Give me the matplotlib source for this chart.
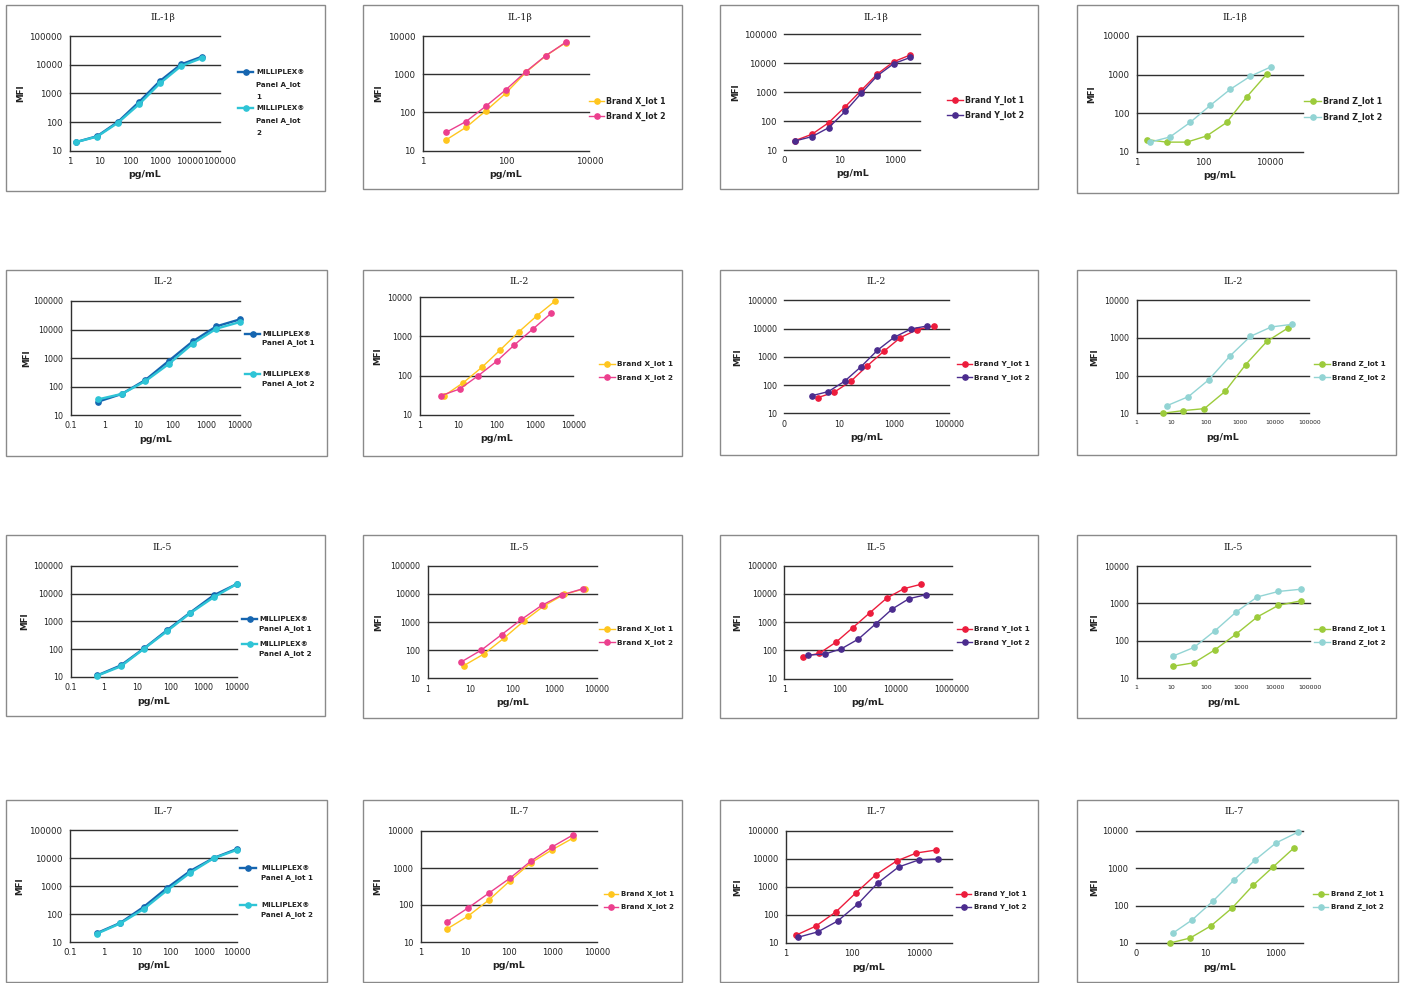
import matplotlib
matplotlib.use("Agg")
import matplotlib.pyplot as plt
from matplotlib.lines import Line2D
from matplotlib.patches import Rectangle

W, H = 1403, 983

# ---------------- data ----------------
# IL-1beta
il1b_mp_x = [1.6, 8, 40, 200, 1000, 5000, 25000]
il1b_mp_y1 = [20, 32, 102, 500, 2700, 10200, 19000]
il1b_mp_y2 = [20, 31, 95, 415, 2240, 8900, 17000]
il1b_bx_x = [3.6, 11, 33, 98, 300, 890, 2700]
il1b_bx_y1 = [19, 41, 111, 316, 1120, 3000, 6700]
il1b_bx_y2 = [30, 58, 147, 388, 1170, 3040, 6800]
il1b_by_x = [0.24, 1.0, 4.0, 16, 60, 230, 900, 3600]
il1b_by_y1 = [21, 35, 88, 316, 1150, 4260, 11300, 19400]
il1b_by_y2 = [20.5, 29, 59, 217, 910, 3700, 9700, 15900]
il1b_bz_x1 = [2.0, 7.9, 32, 126, 500, 2040, 8300]
il1b_bz_y1 = [21, 18, 18, 26, 58, 270, 1070]
il1b_bz_x2 = [2.5, 10, 40, 162, 646, 2570, 10500]
il1b_bz_y2 = [18, 24.5, 58, 161, 420, 910, 1580]
# IL-2
il2_mp_x = [0.64, 3.2, 16, 80, 400, 2000, 10000]
il2_mp_y1 = [29.5, 55, 170, 810, 3830, 12900, 22700]
il2_mp_y2 = [35.5, 55, 155, 630, 3170, 10700, 18300]
il2_bx_x1 = [4.3, 13.5, 41, 122, 373, 1130, 3390]
il2_bx_y1 = [30.6, 66, 162, 445, 1290, 3400, 8100]
il2_bx_x2 = [3.5, 10.8, 33, 100, 289, 870, 2630]
il2_bx_y2 = [30.6, 45.3, 99, 232, 605, 1530, 3880]
il2_by_x1 = [1.67, 6.4, 26.5, 104, 420, 1700, 6900, 27700]
il2_by_y1 = [36, 55, 136, 474, 1560, 4780, 9150, 12300]
il2_by_x2 = [1.0, 4.0, 15.6, 61, 246, 1000, 4130, 15900]
il2_by_y2 = [42, 58.5, 136, 437, 1700, 4900, 9700, 12300]
il2_bz_x1 = [5.6, 22.5, 91, 362, 1440, 5900, 24000]
il2_bz_y1 = [10, 11.8, 13.3, 38, 197, 812, 1830]
il2_bz_x2 = [7.6, 31.5, 121, 505, 1960, 7900, 31500]
il2_bz_y2 = [16, 27.7, 77, 333, 1100, 1960, 2300]
# IL-5
il5_mp_x = [0.63, 3.16, 16, 81, 390, 2000, 10000]
il5_mp_y1 = [11.5, 26, 107, 490, 2040, 8550, 21900]
il5_mp_y2 = [11.2, 24, 104, 450, 1940, 7300, 21900]
il5_bx_x1 = [7.1, 21.3, 63, 190, 560, 1690, 5200]
il5_bx_y1 = [28, 73, 263, 1090, 3700, 9600, 15200]
il5_bx_x2 = [6.2, 18.7, 56, 166, 500, 1500, 4670]
il5_bx_y2 = [38, 101, 355, 1240, 3900, 9100, 15200]
il5_by_x1 = [4.6, 18, 72, 285, 1170, 4760, 19400, 77000]
il5_by_y1 = [60, 79, 198, 640, 2170, 7200, 15400, 21800]
il5_by_x2 = [7.3, 28, 112, 456, 1860, 7400, 29400, 120000]
il5_by_y2 = [69, 74, 115, 254, 865, 2940, 6800, 9400]
il5_bz_x = [11, 45, 182, 740, 3000, 12300, 53500]
il5_bz_y1 = [21, 26, 58, 152, 435, 890, 1170]
il5_bz_y2 = [39, 67, 187, 590, 1490, 2090, 2390]
# IL-7
il7_mp_x = [0.65, 3.2, 16, 80, 400, 2000, 10000]
il7_mp_y1 = [21, 48, 178, 850, 3450, 10000, 21000]
il7_mp_y2 = [20, 46, 150, 700, 3000, 9800, 19500]
il7_bx_x = [3.9, 11.7, 35, 105, 315, 950, 2830]
il7_bx_y1 = [22.5, 50, 137, 450, 1380, 3100, 6400]
il7_bx_y2 = [35, 83, 210, 530, 1540, 3700, 7800]
il7_by_x1 = [2.0, 7.9, 32, 126, 500, 2150, 8500, 34000]
il7_by_y1 = [19, 40, 130, 610, 2700, 8500, 16400, 21000]
il7_by_x2 = [2.3, 9.1, 36, 145, 580, 2470, 9800, 39000]
il7_by_y2 = [16, 25, 61, 245, 1390, 5200, 9200, 10000]
il7_bz_x1 = [0.95, 3.6, 14.4, 58, 234, 870, 3500]
il7_bz_y1 = [10, 13.6, 29, 87, 355, 1090, 3550]
il7_bz_x2 = [1.16, 4.1, 16.5, 66, 270, 1060, 4600]
il7_bz_y2 = [18.5, 41.5, 134, 490, 1700, 4800, 9400]

mp_labels = ["MILLIPLEX®\nPanel A_lot 1", "MILLIPLEX®\nPanel A_lot 2"]
mp_labels_3 = ["MILLIPLEX®\nPanel A_lot\n1", "MILLIPLEX®\nPanel A_lot\n2"]
bx_labels = ["Brand X_lot 1", "Brand X_lot 2"]
by_labels = ["Brand Y_lot 1", "Brand Y_lot 2"]
bz_labels = ["Brand Z_lot 1", "Brand Z_lot 2"]

C_MP = ["#1565b0", "#2ec4d6"]
C_BX = ["#ffc61e", "#ec3f8e"]
C_BY = ["#ec1c3c", "#4b2c8e"]
C_BZ = ["#9ccb3b", "#92d4d4"]

# ---------------- drawing ----------------
fig = plt.figure(figsize=(W / 100, H / 100), dpi=100)
fig.patch.set_facecolor("white")

GRID = "#303030"


def fx(x):
    return x / W


def fy(y):
    return 1 - y / H


def panel(box, plot, xlim, ylim, xticks, xticklabels, series, colors, labels,
          title, title_y, mfi_x, leg, mp=False, tick_fs=6.2, xtick_fs=None,
          leg_fs=5.3, leftspine=True):
    bx0, by0, bx1, by1 = box
    fig.add_artist(Rectangle((fx(bx0), fy(by1)), (bx1 - bx0) / W, (by1 - by0) / H,
                             transform=fig.transFigure, fill=False,
                             ec="#8a8a8a", lw=1.0))
    px0, px1, py0, py1 = plot
    ax = fig.add_axes([fx(px0), fy(py1), (px1 - px0) / W, (py1 - py0) / H])
    ax.set_xscale("log")
    ax.set_yscale("log")
    ax.set_xlim(*xlim)
    ax.set_ylim(*ylim)
    ax.patch.set_alpha(0)
    yt = []
    v = ylim[0]
    while v <= ylim[1] * 1.001:
        yt.append(v)
        v *= 10
    ax.set_yticks(yt)
    ax.set_yticklabels([str(int(t)) for t in yt])
    ax.set_xticks(xticks)
    ax.set_xticklabels(xticklabels)
    ax.minorticks_off()
    for t in yt:
        ax.axhline(t, color=GRID, lw=1.0, zorder=1, clip_on=False)
    for s in ["top", "right", "bottom"]:
        ax.spines[s].set_visible(False)
    ax.spines["left"].set_visible(leftspine)
    ax.spines["left"].set_color(GRID)
    ax.spines["left"].set_linewidth(1.0)
    ax.tick_params(axis="both", length=0, labelsize=tick_fs, colors="#222222")
    ax.tick_params(axis="y", pad=5.5)
    ax.tick_params(axis="x", pad=4.5,
                   labelsize=xtick_fs if xtick_fs else tick_fs)
    lw = 1.7 if mp else 1.0
    ms = 3.8
    for (xs, ys), c in zip(series, colors):
        ax.plot(xs, ys, color=c, lw=lw, marker="o", ms=ms, mec=c, mfc=c,
                zorder=3, clip_on=False)
    # title and axis labels
    fig.text(fx((bx0 + bx1) / 2 - 3), fy(title_y), title, ha="center",
             va="center", fontsize=6.8, family="DejaVu Serif", color="#222222")
    fig.text(fx((px0 + px1) / 2), fy(py1 + 24), "pg/mL", ha="center",
             va="center", fontsize=6.8, weight="bold", color="#222222")
    fig.text(fx(mfi_x), fy((py0 + py1) / 2), "MFI", ha="center", va="center",
             rotation=90, fontsize=6.3, weight="bold", color="#222222")
    # legend
    lx0, lx1, tx, ys_leg, lsp = leg
    for i, (c, lab) in enumerate(zip(colors, labels)):
        yy = ys_leg[i]
        fig.add_artist(Line2D([fx(lx0), fx(lx1)], [fy(yy), fy(yy)], color=c,
                              lw=lw, transform=fig.transFigure))
        fig.add_artist(Line2D([fx((lx0 + lx1) / 2)], [fy(yy)], color=c,
                              marker="o", ms=ms, mec=c, mfc=c,
                              transform=fig.transFigure))
        for k, line in enumerate(lab.split("\n")):
            fig.text(fx(tx), fy(yy + k * lsp), line, ha="left", va="center",
                     fontsize=leg_fs, weight="bold", color="#222222")
    return ax


# Row 1: IL-1beta
panel((6, 5, 325, 191), (70, 220, 36, 150.7), (1, 1e5), (10, 1e5),
      [1, 10, 100, 1000, 1e4, 1e5], ["1", "10", "100", "1000", "10000", "100000"],
      [(il1b_mp_x, il1b_mp_y1), (il1b_mp_x, il1b_mp_y2)], C_MP, mp_labels_3,
      "IL-1β", 18, 21, (238, 253, 256, [72, 108], 12.5), mp=True, leg_fs=5.1)
panel((363, 5, 682, 189), (422.7, 589.3, 36, 150.7), (1, 1e4), (10, 1e4),
      [1, 100, 1e4], ["1", "100", "10000"],
      [(il1b_bx_x, il1b_bx_y1), (il1b_bx_x, il1b_bx_y2)], C_BX, bx_labels,
      "IL-1β", 18, 379, (589, 604, 606, [101, 116], 0), leg_fs=5.7)
panel((720, 5, 1038, 189), (784.3, 920, 34.3, 150), (0.1, 8000), (10, 1e5),
      [0.1, 10, 1000], ["0", "10", "1000"],
      [(il1b_by_x, il1b_by_y1), (il1b_by_x, il1b_by_y2)], C_BY, by_labels,
      "IL-1β", 18, 736, (947, 963, 965, [100, 115.3], 0), leg_fs=5.7,
      leftspine=False)
panel((1077, 5, 1398, 193), (1136.7, 1303.3, 36, 152), (1, 1e5), (10, 1e4),
      [1, 100, 1e4], ["1", "100", "10000"],
      [(il1b_bz_x1, il1b_bz_y1), (il1b_bz_x2, il1b_bz_y2)], C_BZ, bz_labels,
      "IL-1β", 18, 1092, (1304, 1321, 1323, [101, 117.3], 0), leg_fs=5.7)

# Row 2: IL-2
panel((6, 270, 327, 456), (71, 240, 301, 415), (0.1, 1e4), (10, 1e5),
      [0.1, 1, 10, 100, 1000, 1e4], ["0.1", "1", "10", "100", "1000", "10000"],
      [(il2_mp_x, il2_mp_y1), (il2_mp_x, il2_mp_y2)], C_MP, mp_labels,
      "IL-2", 282, 27, (245, 260, 262, [334, 374.3], 8.8), mp=True,
      tick_fs=5.8, leg_fs=5.2)
panel((363, 270, 682, 456), (420, 573.3, 297.3, 414.7), (1, 1e4), (10, 1e4),
      [1, 10, 100, 1000, 1e4], ["1", "10", "100", "1000", "10000"],
      [(il2_bx_x1, il2_bx_y1), (il2_bx_x2, il2_bx_y2)], C_BX, bx_labels,
      "IL-2", 282, 378, (599, 615, 617, [364, 377.3], 0), tick_fs=5.8,
      leg_fs=5.3)
panel((720, 270, 1038, 455), (784.3, 949, 300.3, 413.3), (0.1, 1e5), (10, 1e5),
      [0.1, 10, 1000, 1e5], ["0", "10", "1000", "100000"],
      [(il2_by_x1, il2_by_y1), (il2_by_x2, il2_by_y2)], C_BY, by_labels,
      "IL-2", 282, 738, (957, 972, 974, [364, 377.3], 0), tick_fs=5.8,
      leg_fs=5.3, leftspine=False)
panel((1077, 270, 1396, 455), (1136.7, 1309.3, 300.3, 413.3), (1, 1e5), (10, 1e4),
      [1, 10, 100, 1000, 1e4, 1e5], ["1", "10", "100", "1000", "10000", "100000"],
      [(il2_bz_x1, il2_bz_y1), (il2_bz_x2, il2_bz_y2)], C_BZ, bz_labels,
      "IL-2", 282, 1095, (1314, 1330, 1332, [364, 377.3], 0), tick_fs=5.7,
      xtick_fs=4.3, leg_fs=5.1)

# Row 3: IL-5
panel((6, 535, 325, 716), (71, 236.7, 565.7, 677), (0.1, 1e4), (10, 1e5),
      [0.1, 1, 10, 100, 1000, 1e4], ["0.1", "1", "10", "100", "1000", "10000"],
      [(il5_mp_x, il5_mp_y1), (il5_mp_x, il5_mp_y2)], C_MP, mp_labels,
      "IL-5", 547, 25, (242, 257, 259, [618.7, 644.3], 9.6), mp=True,
      tick_fs=5.8, leg_fs=5.2)
panel((363, 535, 682, 718), (427.7, 596.7, 565.7, 678.3), (1, 1e4), (10, 1e5),
      [1, 10, 100, 1000, 1e4], ["1", "10", "100", "1000", "10000"],
      [(il5_bx_x1, il5_bx_y1), (il5_bx_x2, il5_bx_y2)], C_BX, bx_labels,
      "IL-5", 547, 379, (599, 615, 617, [629, 642.3], 0), tick_fs=5.8,
      leg_fs=5.3)
panel((720, 535, 1038, 718), (784.3, 951.7, 565.7, 678.7), (1, 1e6), (10, 1e5),
      [1, 100, 1e4, 1e6], ["1", "100", "10000", "1000000"],
      [(il5_by_x1, il5_by_y1), (il5_by_x2, il5_by_y2)], C_BY, by_labels,
      "IL-5", 547, 738, (957, 972, 974, [629, 642.3], 0), tick_fs=5.8,
      leg_fs=5.3)
panel((1077, 535, 1396, 718), (1136.7, 1310, 566, 678.3), (1, 1e5), (10, 1e4),
      [1, 10, 100, 1000, 1e4, 1e5], ["1", "10", "100", "1000", "10000", "100000"],
      [(il5_bz_x, il5_bz_y1), (il5_bz_x, il5_bz_y2)], C_BZ, bz_labels,
      "IL-5", 547, 1095, (1314, 1330, 1332, [629, 642.3], 0), tick_fs=5.7,
      xtick_fs=4.5, leg_fs=5.1)

# Row 4: IL-7
panel((6, 800, 327, 982), (70, 237, 830, 942), (0.1, 1e4), (10, 1e5),
      [0.1, 1, 10, 100, 1000, 1e4], ["0.1", "1", "10", "100", "1000", "10000"],
      [(il7_mp_x, il7_mp_y1), (il7_mp_x, il7_mp_y2)], C_MP, mp_labels,
      "IL-7", 812, 20, (240, 256, 261, [868, 905], 10), mp=True,
      tick_fs=6.2, leg_fs=5.1)
panel((363, 800, 682, 982), (421, 597, 831, 942), (1, 1e4), (10, 1e4),
      [1, 10, 100, 1000, 1e4], ["1", "10", "100", "1000", "10000"],
      [(il7_bx_x, il7_bx_y1), (il7_bx_x, il7_bx_y2)], C_BX, bx_labels,
      "IL-7", 812, 378, (604, 618, 621, [894, 907], 0), tick_fs=6.0,
      leg_fs=5.0)
panel((720, 800, 1038, 982), (786, 952, 831, 943), (1, 1e5), (10, 1e5),
      [1, 100, 1e4], ["1", "100", "10000"],
      [(il7_by_x1, il7_by_y1), (il7_by_x2, il7_by_y2)], C_BY, by_labels,
      "IL-7", 812, 738, (956, 971, 974, [894, 907], 0), tick_fs=6.0,
      leg_fs=5.0)
panel((1077, 800, 1398, 982), (1136, 1303, 831, 943), (0.1, 6300), (10, 1e4),
      [0.1, 10, 1000], ["0", "10", "1000"],
      [(il7_bz_x1, il7_bz_y1), (il7_bz_x2, il7_bz_y2)], C_BZ, bz_labels,
      "IL-7", 812, 1095, (1313, 1328, 1331, [894, 907], 0), tick_fs=6.0,
      leg_fs=5.0, leftspine=False)

fig.savefig("out.png", dpi=100, facecolor="white")
